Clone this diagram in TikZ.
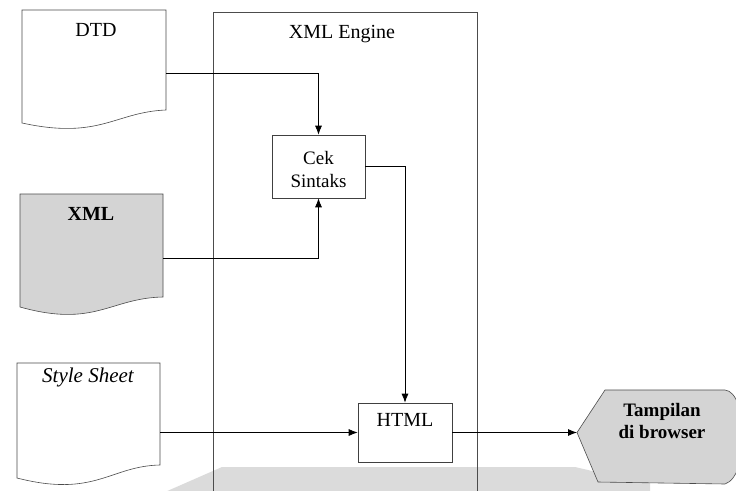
\documentclass[tikz,border=0pt]{standalone}
\usepackage{fontspec}
\setmainfont{Liberation Serif}
\usetikzlibrary{arrows.meta}
\tikzset{
  edge/.style={draw=black!70, line width=0.6pt},
  conn/.style={draw=black, line width=0.8pt},
  arr/.style={conn, -{Latex[length=9pt,width=7pt]}},
  boxn/.style={draw=black!75, line width=0.6pt, fill=white, inner sep=0pt},
  lbl/.style={font=\fontsize{20}{24}\selectfont, align=center, inner sep=0pt},
  docfill/.style={fill=black!17},
}
\begin{document}
\begin{tikzpicture}[x=1pt,y=-1pt]
\clip (0,0) rectangle (736,490);
\fill[white] (0,0) rectangle (736,490);
% scan shadow band
\fill[black!14] (165,492) -- (222,467) -- (575,467) -- (605,474) -- (650,481) -- (650,492) -- cycle;
% XML Engine container
\draw[edge] (213,12) rectangle (477,500);
\node[lbl] (engine) at (342,34) {XML Engine};
% DTD document
\draw[edge] (22,10) -- (166,10) -- (166,110) .. controls (115,112) and (100,140) .. (22,123) -- cycle;
\node[lbl] (dtd) at (96,30) {DTD};
\coordinate (dtdout) at (166,73);
% XML document
\draw[edge, docfill] (20,194) -- (163,194) -- (163,297) .. controls (110,298) and (95,328) .. (20,307) -- cycle;
\node[lbl, font=\fontsize{20}{24}\selectfont\bfseries] (xml) at (91,214) {XML};
\coordinate (xmlout) at (163,258);
% Style Sheet document
\draw[edge] (17,363) -- (160,363) -- (160,465) .. controls (110,466) and (95,498) .. (17,478) -- cycle;
\node[lbl, font=\fontsize{21}{24}\selectfont\itshape] (ss) at (88,377) {Style Sheet};
\coordinate (ssout) at (160,432.5);
% process boxes
\node[boxn, minimum width=93pt, minimum height=63pt] (cek) at (318.5,166.5) {};
\node[lbl, font=\fontsize{19}{23}\selectfont] at (318.5,169) {Cek\\Sintaks};
\node[boxn, minimum width=94pt, minimum height=59pt] (html) at (405,432.5) {};
\node[lbl] (htmltxt) at (405,420) {HTML};
% display shape
\draw[edge, docfill] (577,432.5) -- (605,390) -- (725,390) .. controls (748,392) and (750,476) .. (725,484) -- (598,482) -- cycle;
\coordinate (disp) at (577,432.5);
\node[lbl, font=\fontsize{19}{22}\selectfont\bfseries] (tampil) at (662,421) {Tampilan\\di browser};
% connectors
\draw[arr] (dtdout) -| (cek.north);
\draw[arr] (xmlout) -| (cek.south);
\draw[arr] (cek.east) -| (html.north);
\draw[arr] (ssout) -- (html.west);
\draw[arr] (html.east) -- (disp);
\end{tikzpicture}
\end{document}
